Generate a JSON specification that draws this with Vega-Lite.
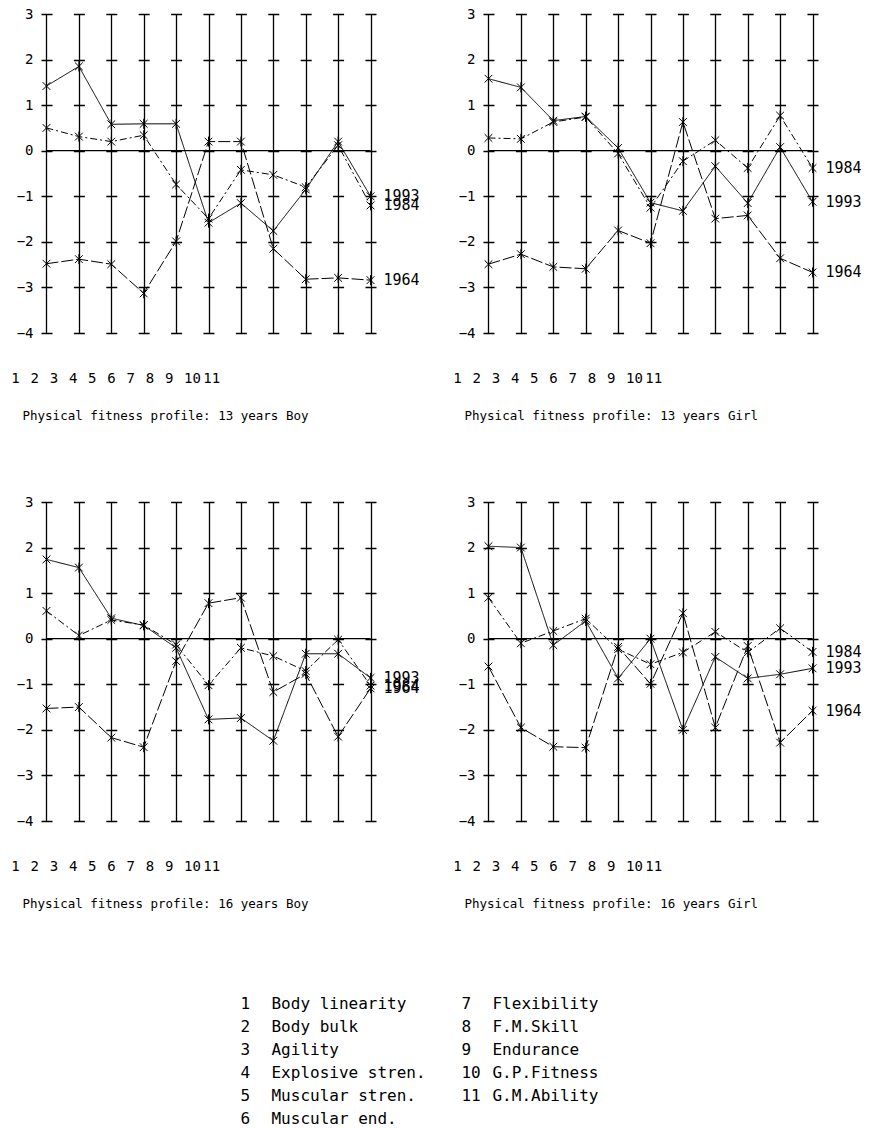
{
  "$schema": "https://vega.github.io/schema/vega-lite/v6.json",
  "background": "white",
  "padding": {"left": 11, "top": 7, "right": 5, "bottom": 5},
  "config": {"view": {"stroke": null}, "font": "DejaVu Sans Mono"},
  "datasets": {
    "profiles": [
      {"panel":"13B","year":"1993","attr":1,"value":1.42},{"panel":"13B","year":"1993","attr":2,"value":1.85},{"panel":"13B","year":"1993","attr":3,"value":0.58},{"panel":"13B","year":"1993","attr":4,"value":0.59},{"panel":"13B","year":"1993","attr":5,"value":0.59},{"panel":"13B","year":"1993","attr":6,"value":-1.58},{"panel":"13B","year":"1993","attr":7,"value":-1.15},{"panel":"13B","year":"1993","attr":8,"value":-1.76},{"panel":"13B","year":"1993","attr":9,"value":-0.85},{"panel":"13B","year":"1993","attr":10,"value":0.2},{"panel":"13B","year":"1993","attr":11,"value":-1.0},
      {"panel":"13B","year":"1984","attr":1,"value":0.5},{"panel":"13B","year":"1984","attr":2,"value":0.31},{"panel":"13B","year":"1984","attr":3,"value":0.2},{"panel":"13B","year":"1984","attr":4,"value":0.34},{"panel":"13B","year":"1984","attr":5,"value":-0.74},{"panel":"13B","year":"1984","attr":6,"value":-1.49},{"panel":"13B","year":"1984","attr":7,"value":-0.42},{"panel":"13B","year":"1984","attr":8,"value":-0.53},{"panel":"13B","year":"1984","attr":9,"value":-0.8},{"panel":"13B","year":"1984","attr":10,"value":0.12},{"panel":"13B","year":"1984","attr":11,"value":-1.2},
      {"panel":"13B","year":"1964","attr":1,"value":-2.48},{"panel":"13B","year":"1964","attr":2,"value":-2.38},{"panel":"13B","year":"1964","attr":3,"value":-2.49},{"panel":"13B","year":"1964","attr":4,"value":-3.13},{"panel":"13B","year":"1964","attr":5,"value":-1.99},{"panel":"13B","year":"1964","attr":6,"value":0.2},{"panel":"13B","year":"1964","attr":7,"value":0.2},{"panel":"13B","year":"1964","attr":8,"value":-2.15},{"panel":"13B","year":"1964","attr":9,"value":-2.82},{"panel":"13B","year":"1964","attr":10,"value":-2.79},{"panel":"13B","year":"1964","attr":11,"value":-2.84},

      {"panel":"13G","year":"1993","attr":1,"value":1.58},{"panel":"13G","year":"1993","attr":2,"value":1.39},{"panel":"13G","year":"1993","attr":3,"value":0.66},{"panel":"13G","year":"1993","attr":4,"value":0.75},{"panel":"13G","year":"1993","attr":5,"value":0.06},{"panel":"13G","year":"1993","attr":6,"value":-1.14},{"panel":"13G","year":"1993","attr":7,"value":-1.32},{"panel":"13G","year":"1993","attr":8,"value":-0.34},{"panel":"13G","year":"1993","attr":9,"value":-1.15},{"panel":"13G","year":"1993","attr":10,"value":0.08},{"panel":"13G","year":"1993","attr":11,"value":-1.12},
      {"panel":"13G","year":"1984","attr":1,"value":0.28},{"panel":"13G","year":"1984","attr":2,"value":0.26},{"panel":"13G","year":"1984","attr":3,"value":0.63},{"panel":"13G","year":"1984","attr":4,"value":0.74},{"panel":"13G","year":"1984","attr":5,"value":-0.06},{"panel":"13G","year":"1984","attr":6,"value":-1.25},{"panel":"13G","year":"1984","attr":7,"value":-0.23},{"panel":"13G","year":"1984","attr":8,"value":0.23},{"panel":"13G","year":"1984","attr":9,"value":-0.38},{"panel":"13G","year":"1984","attr":10,"value":0.77},{"panel":"13G","year":"1984","attr":11,"value":-0.38},
      {"panel":"13G","year":"1964","attr":1,"value":-2.49},{"panel":"13G","year":"1964","attr":2,"value":-2.27},{"panel":"13G","year":"1964","attr":3,"value":-2.55},{"panel":"13G","year":"1964","attr":4,"value":-2.59},{"panel":"13G","year":"1964","attr":5,"value":-1.75},{"panel":"13G","year":"1964","attr":6,"value":-2.03},{"panel":"13G","year":"1964","attr":7,"value":0.63},{"panel":"13G","year":"1964","attr":8,"value":-1.49},{"panel":"13G","year":"1964","attr":9,"value":-1.42},{"panel":"13G","year":"1964","attr":10,"value":-2.36},{"panel":"13G","year":"1964","attr":11,"value":-2.67},

      {"panel":"16B","year":"1993","attr":1,"value":1.74},{"panel":"16B","year":"1993","attr":2,"value":1.56},{"panel":"16B","year":"1993","attr":3,"value":0.45},{"panel":"16B","year":"1993","attr":4,"value":0.29},{"panel":"16B","year":"1993","attr":5,"value":-0.2},{"panel":"16B","year":"1993","attr":6,"value":-1.77},{"panel":"16B","year":"1993","attr":7,"value":-1.74},{"panel":"16B","year":"1993","attr":8,"value":-2.24},{"panel":"16B","year":"1993","attr":9,"value":-0.33},{"panel":"16B","year":"1993","attr":10,"value":-0.33},{"panel":"16B","year":"1993","attr":11,"value":-0.86},
      {"panel":"16B","year":"1984","attr":1,"value":0.61},{"panel":"16B","year":"1984","attr":2,"value":0.07},{"panel":"16B","year":"1984","attr":3,"value":0.41},{"panel":"16B","year":"1984","attr":4,"value":0.3},{"panel":"16B","year":"1984","attr":5,"value":-0.13},{"panel":"16B","year":"1984","attr":6,"value":-1.02},{"panel":"16B","year":"1984","attr":7,"value":-0.2},{"panel":"16B","year":"1984","attr":8,"value":-0.38},{"panel":"16B","year":"1984","attr":9,"value":-0.71},{"panel":"16B","year":"1984","attr":10,"value":-0.02},{"panel":"16B","year":"1984","attr":11,"value":-1.03},
      {"panel":"16B","year":"1964","attr":1,"value":-1.53},{"panel":"16B","year":"1964","attr":2,"value":-1.5},{"panel":"16B","year":"1964","attr":3,"value":-2.17},{"panel":"16B","year":"1964","attr":4,"value":-2.38},{"panel":"16B","year":"1964","attr":5,"value":-0.49},{"panel":"16B","year":"1964","attr":6,"value":0.78},{"panel":"16B","year":"1964","attr":7,"value":0.9},{"panel":"16B","year":"1964","attr":8,"value":-1.17},{"panel":"16B","year":"1964","attr":9,"value":-0.77},{"panel":"16B","year":"1964","attr":10,"value":-2.15},{"panel":"16B","year":"1964","attr":11,"value":-1.09},

      {"panel":"16G","year":"1993","attr":1,"value":2.03},{"panel":"16G","year":"1993","attr":2,"value":2.0},{"panel":"16G","year":"1993","attr":3,"value":-0.14},{"panel":"16G","year":"1993","attr":4,"value":0.39},{"panel":"16G","year":"1993","attr":5,"value":-0.87},{"panel":"16G","year":"1993","attr":6,"value":0.0},{"panel":"16G","year":"1993","attr":7,"value":-2.0},{"panel":"16G","year":"1993","attr":8,"value":-0.4},{"panel":"16G","year":"1993","attr":9,"value":-0.87},{"panel":"16G","year":"1993","attr":10,"value":-0.78},{"panel":"16G","year":"1993","attr":11,"value":-0.65},
      {"panel":"16G","year":"1984","attr":1,"value":0.9},{"panel":"16G","year":"1984","attr":2,"value":-0.1},{"panel":"16G","year":"1984","attr":3,"value":0.17},{"panel":"16G","year":"1984","attr":4,"value":0.44},{"panel":"16G","year":"1984","attr":5,"value":-0.23},{"panel":"16G","year":"1984","attr":6,"value":-0.56},{"panel":"16G","year":"1984","attr":7,"value":-0.3},{"panel":"16G","year":"1984","attr":8,"value":0.15},{"panel":"16G","year":"1984","attr":9,"value":-0.3},{"panel":"16G","year":"1984","attr":10,"value":0.23},{"panel":"16G","year":"1984","attr":11,"value":-0.29},
      {"panel":"16G","year":"1964","attr":1,"value":-0.61},{"panel":"16G","year":"1964","attr":2,"value":-1.95},{"panel":"16G","year":"1964","attr":3,"value":-2.37},{"panel":"16G","year":"1964","attr":4,"value":-2.39},{"panel":"16G","year":"1964","attr":5,"value":-0.18},{"panel":"16G","year":"1964","attr":6,"value":-0.99},{"panel":"16G","year":"1964","attr":7,"value":0.56},{"panel":"16G","year":"1964","attr":8,"value":-1.95},{"panel":"16G","year":"1964","attr":9,"value":-0.16},{"panel":"16G","year":"1964","attr":10,"value":-2.28},{"panel":"16G","year":"1964","attr":11,"value":-1.58}
    ],
    "legend": [
      {"num":"1","label":"Body linearity","col":1,"row":1},
      {"num":"2","label":"Body bulk","col":1,"row":2},
      {"num":"3","label":"Agility","col":1,"row":3},
      {"num":"4","label":"Explosive stren.","col":1,"row":4},
      {"num":"5","label":"Muscular stren.","col":1,"row":5},
      {"num":"6","label":"Muscular end.","col":1,"row":6},
      {"num":"7","label":"Flexibility","col":2,"row":1},
      {"num":"8","label":"F.M.Skill","col":2,"row":2},
      {"num":"9","label":"Endurance","col":2,"row":3},
      {"num":"10","label":"G.P.Fitness","col":2,"row":4},
      {"num":"11","label":"G.M.Ability","col":2,"row":5}
    ]
  },
  "columns": 2,
  "spacing": {"row": 169, "column": 105},
  "bounds": "flush",
  "concat": [
    {
      "width": 337, "height": 319,
      "title": {"text": "Physical fitness profile: 13 years Boy", "orient": "bottom", "anchor": "start", "frame": "group", "offset": 24, "dx": -17.5, "fontSize": 12.5, "fontWeight": "normal", "font": "DejaVu Sans Mono", "color": "black"},
      "data": {"name": "profiles"},
      "transform": [{"filter": "datum.panel === '13B'"}],
      "layer": [
        {"layer": [
          {"mark": {"type": "line", "color": "black", "strokeWidth": 1},
           "encoding": {
             "x": {"field": "attr", "type": "quantitative", "scale": {"domain": [0.8, 11.2], "zero": false, "nice": false}, "axis": {"values": [1,2,3,4,5,6,7,8,9,10,11], "tickCount": 20, "grid": true, "gridColor": "black", "gridWidth": 1.3, "gridOpacity": 1, "labels": false, "ticks": false, "domain": false, "title": null}},
             "y": {"field": "value", "type": "quantitative", "scale": {"domain": [-4, 3], "zero": false, "nice": false}, "axis": {"values": [-4,-3,-2,-1,0,1,2,3], "format": "d", "grid": true, "gridColor": "black", "gridWidth": 1.3, "gridOpacity": 1, "gridDash": [11, 21.4], "gridDashOffset": 31.42, "ticks": false, "tickSize": 0, "domain": false, "labelPadding": 7, "labelFont": "DejaVu Sans Mono", "labelFontSize": 14, "labelColor": "black", "title": null}},
             "strokeDash": {"field": "year", "type": "nominal", "scale": {"domain": ["1964","1984","1993"], "range": [[12,3],[7,3,2,3],[1,0]]}, "legend": null}
           }},
          {"mark": {"type": "point", "shape": "M-1,-1L1,1M-1,1L1,-1M0,-1.3L0,1.3", "filled": false, "color": "black", "strokeWidth": 1, "size": 60, "opacity": 1},
           "encoding": {"x": {"field": "attr", "type": "quantitative", "scale": {"domain": [0.8, 11.2], "zero": false, "nice": false}}, "y": {"field": "value", "type": "quantitative", "scale": {"domain": [-4, 3], "zero": false, "nice": false}}}},
          {"transform": [{"filter": "datum.attr === 1 && datum.year === '1993'"}],
           "mark": {"type": "rule", "color": "black", "strokeWidth": 1.2},
           "encoding": {"x": {"datum": 1, "type": "quantitative", "scale": {"domain": [0.8, 11.2], "zero": false, "nice": false}}, "x2": {"datum": 11}, "y": {"datum": 0, "type": "quantitative", "scale": {"domain": [-4, 3], "zero": false, "nice": false}}}},
          {"transform": [{"filter": "datum.attr === 11"}],
           "mark": {"type": "text", "align": "left", "baseline": "middle", "dx": 13, "fontSize": 15, "color": "black"},
           "encoding": {"x": {"field": "attr", "type": "quantitative", "scale": {"domain": [0.8, 11.2], "zero": false, "nice": false}}, "y": {"field": "value", "type": "quantitative", "scale": {"domain": [-4, 3], "zero": false, "nice": false}}, "text": {"field": "year"}}}
        ], "resolve": {"scale": {"x": "shared"}}},
        {"transform": [{"filter": "datum.year === '1993'"}],
         "mark": {"type": "text", "align": "left", "baseline": "middle", "dy": 46, "fontSize": 14, "color": "black"},
         "encoding": {"x": {"field": "attr", "type": "quantitative", "scale": {"domain": [2.495, 20.047], "zero": false, "nice": false}, "axis": null},
                      "y": {"datum": -4, "type": "quantitative", "scale": {"domain": [-4, 3], "zero": false, "nice": false}}, "text": {"field": "attr", "type": "quantitative"}}}
      ],
      "resolve": {"scale": {"x": "independent"}}
    },
    {
      "width": 337, "height": 319,
      "title": {"text": "Physical fitness profile: 13 years Girl", "orient": "bottom", "anchor": "start", "frame": "group", "offset": 24, "dx": -17.5, "fontSize": 12.5, "fontWeight": "normal", "font": "DejaVu Sans Mono", "color": "black"},
      "data": {"name": "profiles"},
      "transform": [{"filter": "datum.panel === '13G'"}],
      "layer": [
        {"layer": [
          {"mark": {"type": "line", "color": "black", "strokeWidth": 1},
           "encoding": {
             "x": {"field": "attr", "type": "quantitative", "scale": {"domain": [0.8, 11.2], "zero": false, "nice": false}, "axis": {"values": [1,2,3,4,5,6,7,8,9,10,11], "tickCount": 20, "grid": true, "gridColor": "black", "gridWidth": 1.3, "gridOpacity": 1, "labels": false, "ticks": false, "domain": false, "title": null}},
             "y": {"field": "value", "type": "quantitative", "scale": {"domain": [-4, 3], "zero": false, "nice": false}, "axis": {"values": [-4,-3,-2,-1,0,1,2,3], "format": "d", "grid": true, "gridColor": "black", "gridWidth": 1.3, "gridOpacity": 1, "gridDash": [11, 21.4], "gridDashOffset": 31.42, "ticks": false, "tickSize": 0, "domain": false, "labelPadding": 7, "labelFont": "DejaVu Sans Mono", "labelFontSize": 14, "labelColor": "black", "title": null}},
             "strokeDash": {"field": "year", "type": "nominal", "scale": {"domain": ["1964","1984","1993"], "range": [[12,3],[7,3,2,3],[1,0]]}, "legend": null}
           }},
          {"mark": {"type": "point", "shape": "M-1,-1L1,1M-1,1L1,-1M0,-1.3L0,1.3", "filled": false, "color": "black", "strokeWidth": 1, "size": 60, "opacity": 1},
           "encoding": {"x": {"field": "attr", "type": "quantitative", "scale": {"domain": [0.8, 11.2], "zero": false, "nice": false}}, "y": {"field": "value", "type": "quantitative", "scale": {"domain": [-4, 3], "zero": false, "nice": false}}}},
          {"transform": [{"filter": "datum.attr === 1 && datum.year === '1993'"}],
           "mark": {"type": "rule", "color": "black", "strokeWidth": 1.2},
           "encoding": {"x": {"datum": 1, "type": "quantitative", "scale": {"domain": [0.8, 11.2], "zero": false, "nice": false}}, "x2": {"datum": 11}, "y": {"datum": 0, "type": "quantitative", "scale": {"domain": [-4, 3], "zero": false, "nice": false}}}},
          {"transform": [{"filter": "datum.attr === 11"}],
           "mark": {"type": "text", "align": "left", "baseline": "middle", "dx": 13, "fontSize": 15, "color": "black"},
           "encoding": {"x": {"field": "attr", "type": "quantitative", "scale": {"domain": [0.8, 11.2], "zero": false, "nice": false}}, "y": {"field": "value", "type": "quantitative", "scale": {"domain": [-4, 3], "zero": false, "nice": false}}, "text": {"field": "year"}}}
        ], "resolve": {"scale": {"x": "shared"}}},
        {"transform": [{"filter": "datum.year === '1993'"}],
         "mark": {"type": "text", "align": "left", "baseline": "middle", "dy": 46, "fontSize": 14, "color": "black"},
         "encoding": {"x": {"field": "attr", "type": "quantitative", "scale": {"domain": [2.495, 20.047], "zero": false, "nice": false}, "axis": null},
                      "y": {"datum": -4, "type": "quantitative", "scale": {"domain": [-4, 3], "zero": false, "nice": false}}, "text": {"field": "attr", "type": "quantitative"}}}
      ],
      "resolve": {"scale": {"x": "independent"}}
    },
    {
      "width": 337, "height": 319,
      "title": {"text": "Physical fitness profile: 16 years Boy", "orient": "bottom", "anchor": "start", "frame": "group", "offset": 24, "dx": -17.5, "fontSize": 12.5, "fontWeight": "normal", "font": "DejaVu Sans Mono", "color": "black"},
      "data": {"name": "profiles"},
      "transform": [{"filter": "datum.panel === '16B'"}],
      "layer": [
        {"layer": [
          {"mark": {"type": "line", "color": "black", "strokeWidth": 1},
           "encoding": {
             "x": {"field": "attr", "type": "quantitative", "scale": {"domain": [0.8, 11.2], "zero": false, "nice": false}, "axis": {"values": [1,2,3,4,5,6,7,8,9,10,11], "tickCount": 20, "grid": true, "gridColor": "black", "gridWidth": 1.3, "gridOpacity": 1, "labels": false, "ticks": false, "domain": false, "title": null}},
             "y": {"field": "value", "type": "quantitative", "scale": {"domain": [-4, 3], "zero": false, "nice": false}, "axis": {"values": [-4,-3,-2,-1,0,1,2,3], "format": "d", "grid": true, "gridColor": "black", "gridWidth": 1.3, "gridOpacity": 1, "gridDash": [11, 21.4], "gridDashOffset": 31.42, "ticks": false, "tickSize": 0, "domain": false, "labelPadding": 7, "labelFont": "DejaVu Sans Mono", "labelFontSize": 14, "labelColor": "black", "title": null}},
             "strokeDash": {"field": "year", "type": "nominal", "scale": {"domain": ["1964","1984","1993"], "range": [[12,3],[7,3,2,3],[1,0]]}, "legend": null}
           }},
          {"mark": {"type": "point", "shape": "M-1,-1L1,1M-1,1L1,-1M0,-1.3L0,1.3", "filled": false, "color": "black", "strokeWidth": 1, "size": 60, "opacity": 1},
           "encoding": {"x": {"field": "attr", "type": "quantitative", "scale": {"domain": [0.8, 11.2], "zero": false, "nice": false}}, "y": {"field": "value", "type": "quantitative", "scale": {"domain": [-4, 3], "zero": false, "nice": false}}}},
          {"transform": [{"filter": "datum.attr === 1 && datum.year === '1993'"}],
           "mark": {"type": "rule", "color": "black", "strokeWidth": 1.2},
           "encoding": {"x": {"datum": 1, "type": "quantitative", "scale": {"domain": [0.8, 11.2], "zero": false, "nice": false}}, "x2": {"datum": 11}, "y": {"datum": 0, "type": "quantitative", "scale": {"domain": [-4, 3], "zero": false, "nice": false}}}},
          {"transform": [{"filter": "datum.attr === 11"}],
           "mark": {"type": "text", "align": "left", "baseline": "middle", "dx": 13, "fontSize": 15, "color": "black"},
           "encoding": {"x": {"field": "attr", "type": "quantitative", "scale": {"domain": [0.8, 11.2], "zero": false, "nice": false}}, "y": {"field": "value", "type": "quantitative", "scale": {"domain": [-4, 3], "zero": false, "nice": false}}, "text": {"field": "year"}}}
        ], "resolve": {"scale": {"x": "shared"}}},
        {"transform": [{"filter": "datum.year === '1993'"}],
         "mark": {"type": "text", "align": "left", "baseline": "middle", "dy": 46, "fontSize": 14, "color": "black"},
         "encoding": {"x": {"field": "attr", "type": "quantitative", "scale": {"domain": [2.495, 20.047], "zero": false, "nice": false}, "axis": null},
                      "y": {"datum": -4, "type": "quantitative", "scale": {"domain": [-4, 3], "zero": false, "nice": false}}, "text": {"field": "attr", "type": "quantitative"}}}
      ],
      "resolve": {"scale": {"x": "independent"}}
    },
    {
      "width": 337, "height": 319,
      "title": {"text": "Physical fitness profile: 16 years Girl", "orient": "bottom", "anchor": "start", "frame": "group", "offset": 24, "dx": -17.5, "fontSize": 12.5, "fontWeight": "normal", "font": "DejaVu Sans Mono", "color": "black"},
      "data": {"name": "profiles"},
      "transform": [{"filter": "datum.panel === '16G'"}],
      "layer": [
        {"layer": [
          {"mark": {"type": "line", "color": "black", "strokeWidth": 1},
           "encoding": {
             "x": {"field": "attr", "type": "quantitative", "scale": {"domain": [0.8, 11.2], "zero": false, "nice": false}, "axis": {"values": [1,2,3,4,5,6,7,8,9,10,11], "tickCount": 20, "grid": true, "gridColor": "black", "gridWidth": 1.3, "gridOpacity": 1, "labels": false, "ticks": false, "domain": false, "title": null}},
             "y": {"field": "value", "type": "quantitative", "scale": {"domain": [-4, 3], "zero": false, "nice": false}, "axis": {"values": [-4,-3,-2,-1,0,1,2,3], "format": "d", "grid": true, "gridColor": "black", "gridWidth": 1.3, "gridOpacity": 1, "gridDash": [11, 21.4], "gridDashOffset": 31.42, "ticks": false, "tickSize": 0, "domain": false, "labelPadding": 7, "labelFont": "DejaVu Sans Mono", "labelFontSize": 14, "labelColor": "black", "title": null}},
             "strokeDash": {"field": "year", "type": "nominal", "scale": {"domain": ["1964","1984","1993"], "range": [[12,3],[7,3,2,3],[1,0]]}, "legend": null}
           }},
          {"mark": {"type": "point", "shape": "M-1,-1L1,1M-1,1L1,-1M0,-1.3L0,1.3", "filled": false, "color": "black", "strokeWidth": 1, "size": 60, "opacity": 1},
           "encoding": {"x": {"field": "attr", "type": "quantitative", "scale": {"domain": [0.8, 11.2], "zero": false, "nice": false}}, "y": {"field": "value", "type": "quantitative", "scale": {"domain": [-4, 3], "zero": false, "nice": false}}}},
          {"transform": [{"filter": "datum.attr === 1 && datum.year === '1993'"}],
           "mark": {"type": "rule", "color": "black", "strokeWidth": 1.2},
           "encoding": {"x": {"datum": 1, "type": "quantitative", "scale": {"domain": [0.8, 11.2], "zero": false, "nice": false}}, "x2": {"datum": 11}, "y": {"datum": 0, "type": "quantitative", "scale": {"domain": [-4, 3], "zero": false, "nice": false}}}},
          {"transform": [{"filter": "datum.attr === 11"}],
           "mark": {"type": "text", "align": "left", "baseline": "middle", "dx": 13, "fontSize": 15, "color": "black"},
           "encoding": {"x": {"field": "attr", "type": "quantitative", "scale": {"domain": [0.8, 11.2], "zero": false, "nice": false}}, "y": {"field": "value", "type": "quantitative", "scale": {"domain": [-4, 3], "zero": false, "nice": false}}, "text": {"field": "year"}}}
        ], "resolve": {"scale": {"x": "shared"}}},
        {"transform": [{"filter": "datum.year === '1993'"}],
         "mark": {"type": "text", "align": "left", "baseline": "middle", "dy": 46, "fontSize": 14, "color": "black"},
         "encoding": {"x": {"field": "attr", "type": "quantitative", "scale": {"domain": [2.495, 20.047], "zero": false, "nice": false}, "axis": null},
                      "y": {"datum": -4, "type": "quantitative", "scale": {"domain": [-4, 3], "zero": false, "nice": false}}, "text": {"field": "attr", "type": "quantitative"}}}
      ],
      "resolve": {"scale": {"x": "independent"}}
    },
    {
      "width": 337, "height": 129,
      "data": {"name": "legend"},
      "layer": [
        {"mark": {"type": "text", "align": "left", "baseline": "middle", "fontSize": 16, "color": "black"},
         "encoding": {"x": {"field": "col", "type": "quantitative", "scale": {"domain": [0.0928, 1.6177], "zero": false, "nice": false}, "axis": null},
                      "y": {"field": "row", "type": "quantitative", "scale": {"domain": [0.4, 6], "reverse": true, "zero": false, "nice": false}, "axis": null},
                      "text": {"field": "num"}}},
        {"mark": {"type": "text", "align": "left", "baseline": "middle", "dx": 31, "fontSize": 16, "color": "black"},
         "encoding": {"x": {"field": "col", "type": "quantitative", "scale": {"domain": [0.0928, 1.6177], "zero": false, "nice": false}, "axis": null},
                      "y": {"field": "row", "type": "quantitative", "scale": {"domain": [0.4, 6], "reverse": true, "zero": false, "nice": false}, "axis": null},
                      "text": {"field": "label"}}}
      ]
    }
  ]
}
